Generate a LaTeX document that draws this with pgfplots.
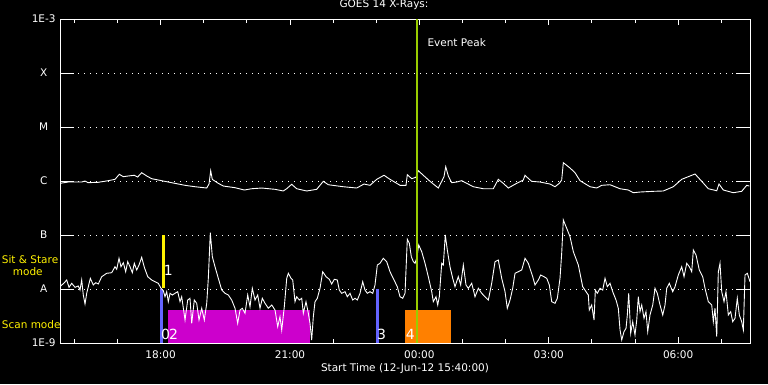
\documentclass[border=0pt]{standalone}
\usepackage{fontspec}
\setmainfont{DejaVu Sans}
\usepackage{pgfplots}
\usepackage{pgfplotstable}
\pgfplotsset{compat=1.18}
\definecolor{scanmag}{RGB}{204,0,204}
\definecolor{evorange}{RGB}{255,128,0}
\definecolor{evblue}{RGB}{100,100,255}
\definecolor{evgreen}{RGB}{153,204,0}

% long channel (1-8 A): time in hours (clock), log10 flux
\pgfplotstableread{
t lf
15.667 -6.043
15.859 -6.019
16.170 -6.019
16.246 -6.000
16.316 -6.031
16.555 -6.024
16.787 -5.994
16.942 -5.969
17.042 -5.876
17.134 -5.920
17.250 -5.907
17.390 -5.894
17.468 -5.926
17.561 -5.846
17.677 -5.907
17.793 -5.957
18.178 -6.019
18.565 -6.080
18.797 -6.106
19.068 -6.130
19.122 -6.056
19.161 -5.809
19.198 -5.969
19.337 -6.043
19.453 -6.093
19.725 -6.124
19.940 -6.167
20.112 -6.143
20.344 -6.130
20.652 -6.154
20.845 -6.185
20.923 -6.143
21.039 -6.061
21.155 -6.143
21.387 -6.185
21.619 -6.154
21.772 -6.006
21.888 -6.069
22.236 -6.106
22.547 -6.130
22.716 -6.056
22.855 -6.080
23.011 -5.969
23.180 -5.894
23.319 -5.969
23.551 -6.080
23.690 -6.080
23.720 -5.883
23.822 -5.957
23.922 -5.931
23.975 -5.809
24.091 -5.894
24.247 -6.006
24.439 -6.130
24.518 -6.006
24.571 -5.920
24.611 -5.735
24.671 -5.907
24.750 -6.031
24.866 -6.019
24.982 -5.994
25.098 -6.043
25.251 -6.106
25.483 -6.143
25.714 -6.143
25.830 -5.969
25.946 -6.043
26.062 -6.130
26.257 -6.043
26.410 -5.981
26.449 -5.894
26.549 -5.969
26.605 -6.006
26.797 -6.019
27.029 -6.056
27.145 -6.106
27.245 -6.043
27.300 -5.981
27.338 -5.661
27.493 -5.759
27.609 -5.846
27.725 -5.994
27.957 -6.106
28.112 -6.130
28.228 -6.080
28.420 -6.069
28.652 -6.143
28.845 -6.167
28.961 -6.217
29.116 -6.204
29.424 -6.191
29.656 -6.185
29.888 -6.106
30.083 -5.969
30.236 -5.920
30.392 -5.870
30.547 -6.006
30.700 -6.143
30.895 -6.180
30.948 -6.056
31.048 -6.167
31.280 -6.217
31.474 -6.191
31.590 -6.080
31.651 -6.093
}\longchan

% short channel (0.5-4 A)
\pgfplotstableread{
t lf
15.667 -7.957
15.767 -7.883
15.822 -7.833
15.876 -7.969
15.938 -7.894
16.015 -7.969
16.091 -7.944
16.131 -8.019
16.170 -7.833
16.207 -8.111
16.247 -8.278
16.286 -8.080
16.323 -7.957
16.370 -7.802
16.439 -7.926
16.495 -7.883
16.555 -7.907
16.634 -7.772
16.750 -7.709
16.866 -7.698
16.942 -7.587
16.982 -7.635
17.035 -7.431
17.081 -7.587
17.135 -7.513
17.190 -7.680
17.237 -7.494
17.290 -7.587
17.344 -7.698
17.390 -7.524
17.446 -7.648
17.499 -7.556
17.561 -7.413
17.622 -7.598
17.701 -7.772
17.793 -7.833
17.870 -7.865
17.946 -7.894
18.009 -7.987
18.062 -8.031
18.102 -8.143
18.141 -8.050
18.178 -8.235
18.218 -8.080
18.271 -8.111
18.333 -8.080
18.396 -8.050
18.450 -8.235
18.489 -8.143
18.566 -8.574
18.628 -8.204
18.681 -8.172
18.721 -8.635
18.781 -8.204
18.837 -8.265
18.890 -8.574
18.953 -8.357
19.013 -8.574
19.069 -8.265
19.106 -7.802
19.152 -6.957
19.199 -7.402
19.261 -7.587
19.338 -7.802
19.417 -8.019
19.493 -8.080
19.570 -8.111
19.648 -8.204
19.725 -8.357
19.787 -8.635
19.841 -8.389
19.894 -8.357
19.957 -8.450
20.019 -8.111
20.073 -8.328
20.126 -7.987
20.189 -8.204
20.251 -8.111
20.305 -8.357
20.358 -8.172
20.421 -8.265
20.497 -8.357
20.576 -8.296
20.653 -8.389
20.715 -8.698
20.768 -8.513
20.808 -8.759
20.868 -8.328
20.924 -7.802
20.961 -7.709
21.024 -7.802
21.063 -7.833
21.116 -8.235
21.156 -8.143
21.216 -8.204
21.272 -8.172
21.309 -8.450
21.371 -8.235
21.425 -8.450
21.464 -8.635
21.503 -8.944
21.541 -8.513
21.580 -8.235
21.633 -8.172
21.696 -7.987
21.758 -7.680
21.835 -7.772
21.912 -7.820
21.967 -7.907
22.028 -7.820
22.097 -7.833
22.143 -8.019
22.199 -8.080
22.276 -8.050
22.329 -8.143
22.392 -8.080
22.454 -8.204
22.508 -8.172
22.561 -8.204
22.624 -8.080
22.686 -7.865
22.739 -8.019
22.793 -8.080
22.855 -8.050
22.918 -8.080
22.971 -7.926
23.025 -7.556
23.087 -7.524
23.164 -7.431
23.242 -7.494
23.319 -7.680
23.412 -7.833
23.488 -7.957
23.551 -8.143
23.614 -8.172
23.667 -8.080
23.720 -7.080
23.767 -7.154
23.813 -7.402
23.860 -7.494
23.899 -7.524
23.938 -7.431
23.985 -7.185
24.054 -7.309
24.131 -7.524
24.207 -7.772
24.286 -8.050
24.323 -8.235
24.386 -8.143
24.425 -8.296
24.462 -8.143
24.518 -7.524
24.555 -7.556
24.601 -7.000
24.648 -7.278
24.710 -7.587
24.773 -7.802
24.826 -7.957
24.903 -7.772
24.958 -7.926
25.019 -7.556
25.081 -7.926
25.135 -7.987
25.214 -7.894
25.290 -8.143
25.367 -7.987
25.446 -8.080
25.522 -8.143
25.599 -8.204
25.677 -7.894
25.754 -7.494
25.830 -7.463
25.909 -7.802
25.986 -8.050
26.039 -8.357
26.102 -8.204
26.164 -7.987
26.218 -7.709
26.294 -7.680
26.373 -7.648
26.450 -7.431
26.526 -7.524
26.628 -7.772
26.681 -7.926
26.758 -7.833
26.813 -7.741
26.890 -7.772
26.953 -7.802
27.013 -7.926
27.069 -8.235
27.145 -8.265
27.199 -8.172
27.261 -7.802
27.300 -7.339
27.338 -6.722
27.416 -6.876
27.493 -7.031
27.570 -7.309
27.686 -7.556
27.787 -7.957
27.864 -8.050
27.917 -8.111
27.940 -8.389
27.996 -8.296
28.050 -8.574
28.080 -8.019
28.126 -8.080
28.189 -7.987
28.251 -8.019
28.305 -7.802
28.358 -7.957
28.421 -7.894
28.483 -8.050
28.560 -8.204
28.613 -8.357
28.653 -8.759
28.692 -8.944
28.745 -8.790
28.792 -8.728
28.822 -8.481
28.854 -8.080
28.900 -8.820
28.947 -8.605
29.000 -8.852
29.040 -8.574
29.077 -8.143
29.116 -8.420
29.156 -8.296
29.209 -8.543
29.255 -8.420
29.295 -8.790
29.348 -8.481
29.411 -8.296
29.464 -7.987
29.517 -8.080
29.580 -8.296
29.643 -8.481
29.696 -8.296
29.735 -7.987
29.795 -7.894
29.874 -8.050
29.928 -7.957
30.004 -7.741
30.083 -7.587
30.137 -7.772
30.199 -7.524
30.260 -7.587
30.315 -7.680
30.353 -7.278
30.415 -7.370
30.491 -7.648
30.570 -7.772
30.624 -7.987
30.700 -8.235
30.779 -8.296
30.816 -8.605
30.855 -8.357
30.895 -8.883
30.932 -7.680
30.971 -7.524
31.011 -8.050
31.064 -8.235
31.110 -8.050
31.164 -8.481
31.219 -8.420
31.266 -8.605
31.319 -8.543
31.372 -8.172
31.419 -8.481
31.474 -8.605
31.512 -8.759
31.551 -7.741
31.605 -7.709
31.667 -7.865
}\shortchan

\begin{document}
\begin{tikzpicture}[font=\fontsize{10.5pt}{12pt}\selectfont]
\fill[black] (0,0) rectangle (768pt,384pt);
\useasboundingbox (0,0) rectangle (768pt,384pt);
\begin{axis}[
  at={(60pt,41pt)}, anchor=south west,
  scale only axis, width=690pt, height=324pt,
  xmin=15.6667, xmax=31.6667, ymin=-9, ymax=-3,
  axis line style={white, line width=1pt},
  tick style={white, line width=1pt},
  tick align=inside, tick pos=both,
  xticklabel pos=lower, yticklabel pos=left,
  xtick={18,21,24,27,30},
  xticklabels={18:00,21:00,00:00,03:00,06:00},
  minor xtick={16,17,19,20,22,23,25,26,28,29,31},
  ytick={-9,-8,-7,-6,-5,-4,-3},
  yticklabels={1E-9,A,B,C,M,X,1E-3},
  xtick style={/pgfplots/major tick length=6pt, /pgfplots/minor tick length=4pt},
  ytick style={/pgfplots/major tick length=14pt},
  ymajorgrids,
  major grid style={white, line width=1pt, dash pattern=on 1pt off 5pt},
  ticklabel style={white, font=\fontsize{10.5pt}{12pt}\selectfont},
  yticklabel style={anchor=center, xshift=-16.3pt},
  xticklabel style={anchor=base, yshift=-15.3pt},
  title={GOES 14 X-Rays:},
  title style={white, at={(axis description cs:0.4696,1)}, anchor=base, yshift=5.5pt},
  xlabel={Start Time (12-Jun-12 15:40:00)},
  xlabel style={white, at={(axis description cs:0.5,0)}, anchor=base, yshift=-28pt},
]
% scan mode intervals
\addplot[fill=scanmag, draw=none] coordinates {(18.178,-9) (18.178,-8.389) (21.464,-8.389) (21.464,-9)} --cycle;
\addplot[fill=evorange, draw=none] coordinates {(23.667,-9) (23.667,-8.389) (24.733,-8.389) (24.733,-9)} --cycle;
% markers
\addplot[evblue, line width=2.4pt] coordinates {(18.020,-8.0) (18.020,-9)};
\addplot[evblue, line width=2.4pt] coordinates {(23.025,-8.0) (23.025,-9)};
% curves
\addplot[white, line width=0.9pt] table[x=t, y=lf] {\longchan};
\addplot[white, line width=0.9pt] table[x=t, y=lf] {\shortchan};
\addplot[yellow, line width=2.3pt] coordinates {(18.067,-7) (18.067,-7.98)};
\addplot[evgreen, line width=2.3pt] coordinates {(23.940,-9) (23.940,-3)};
% labels
\node[white, anchor=base west, inner sep=0pt, font=\fontsize{14pt}{16pt}\selectfont] at (axis cs:18.070,-7.741) {1};
\node[white, anchor=base west, inner sep=0pt, font=\fontsize{14pt}{16pt}\selectfont] at (axis cs:18.005,-8.935) {0};
\node[white, anchor=base west, inner sep=0pt, font=\fontsize{14pt}{16pt}\selectfont] at (axis cs:18.190,-8.935) {2};
\node[white, anchor=base west, inner sep=0pt, font=\fontsize{14pt}{16pt}\selectfont] at (axis cs:23.015,-8.935) {3};
\node[white, anchor=base west, inner sep=0pt, font=\fontsize{14pt}{16pt}\selectfont] at (axis cs:23.680,-8.935) {4};
\node[white, anchor=base west, inner sep=0pt] at (axis cs:24.184,-3.513) {Event Peak};
\end{axis}
\node[yellow, anchor=base west, inner sep=0pt] at (1.7pt,120.7pt) {Sit \& Stare};
\node[yellow, anchor=base west, inner sep=0pt] at (12.7pt,109pt) {mode};
\node[yellow, anchor=base west, inner sep=0pt] at (1.7pt,55.7pt) {Scan mode};
\end{tikzpicture}
\end{document}
